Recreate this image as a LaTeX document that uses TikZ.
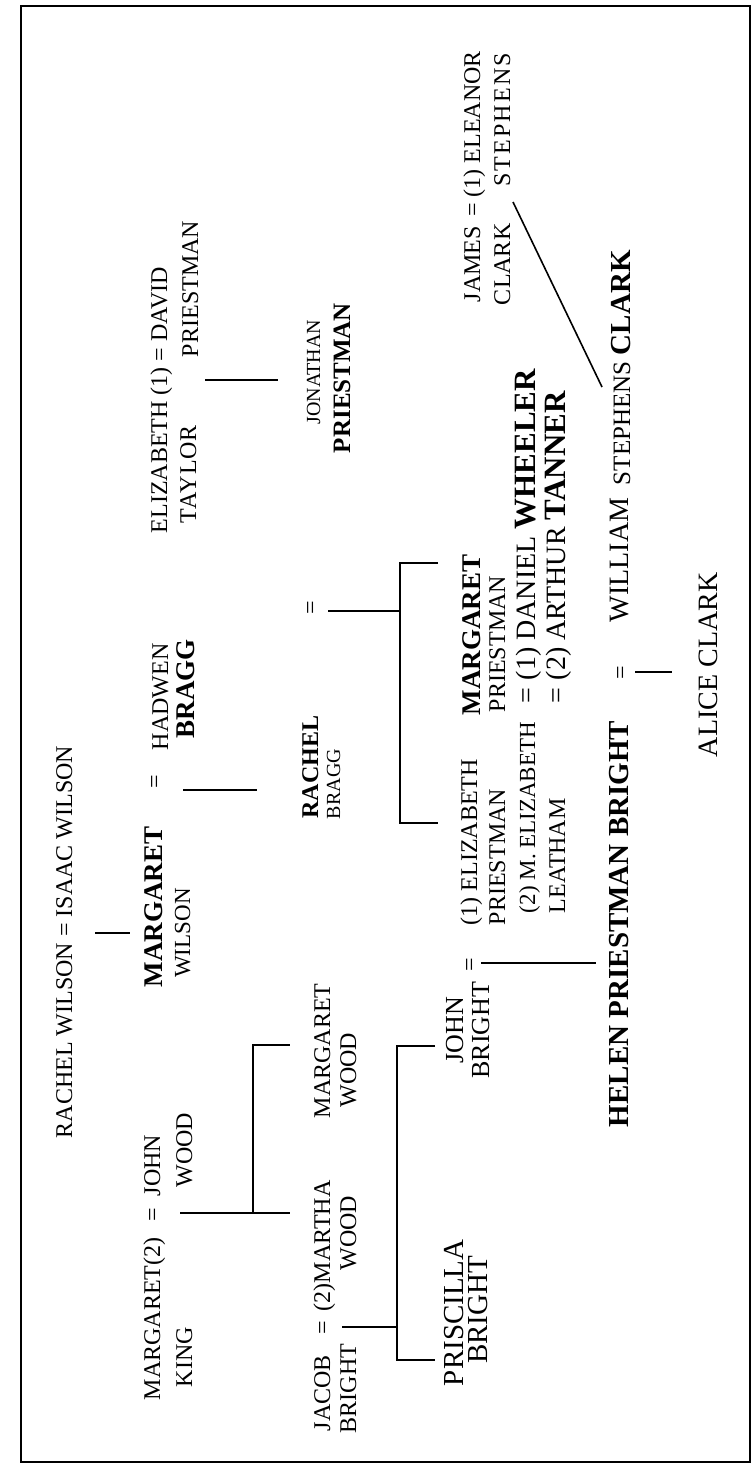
\documentclass[tikz,border=0pt]{standalone}
\usepackage{fontspec}
\setmainfont{Liberation Serif}
\newcommand\fsz[1]{\fontsize{#1}{#1}\selectfont}
\begin{document}
\begin{tikzpicture}[x=1pt,y=-1pt,
  nm/.style={rotate=90,inner sep=0pt,outer sep=0pt,text=black},
  sz/.style={font=\fontsize{#1}{#1}\selectfont},
  bsz/.style={font=\fontsize{#1}{#1}\selectfont\bfseries},
  link/.style={line width=1.6pt,black},
  frame/.style={line width=2.8pt,black}]
\useasboundingbox (0,0) rectangle (755,1468);
\fill[white] (0,0) rectangle (755,1468);
\draw[frame] (21,6) rectangle (750,1462);

% generation 1
\node[nm,sz=24,anchor=base west] (rw) at (72,1138) {RACHEL WILSON = ISAAC WILSON};

% Margaret King = John Wood
\node[nm,sz=24,anchor=base west] (mk1) at (160,1400) {MARGARET(2)};
\node[nm,sz=24,anchor=base] (mk2) at (192,1357) {KING};
\node[nm,sz=24,anchor=base] (eqkw) at (160,1215) {=};
\node[nm,sz=24,anchor=base west] (jw1) at (160,1196) {JOHN};
\node[nm,sz=24,anchor=base] (jw2) at (192,1150) {WOOD};

% Margaret Wilson = Hadwen Bragg
\node[nm,bsz=27,anchor=base west] (mw1) at (162,987) {MARGARET};
\node[nm,sz=23,anchor=base] (mw2) at (190,933) {WILSON};
\node[nm,sz=24,anchor=base] (eqwb) at (162,782) {=};
\node[nm,sz=24,anchor=base west] (hb1) at (168,750) {HADWEN};
\node[nm,bsz=27,anchor=base west] (hb2) at (194,738) {BRAGG};

% Elizabeth Taylor = David Priestman
\node[nm,sz=24,anchor=base west] (et1) at (167,533) {ELIZABETH (1) = DAVID};
\node[nm,sz=24,anchor=base west] (et2) at (196,523) {\addfontfeatures{LetterSpace=4}TAYLOR};
\node[nm,sz=24,anchor=base west] (dp2) at (198,357) {PRIESTMAN};

% children of Margaret King and John Wood; Jacob Bright
\node[nm,sz=24,anchor=base west] (jb1) at (330,1431) {JACOB};
\node[nm,sz=24,anchor=base west] (jb2) at (356,1433) {BRIGHT};
\node[nm,sz=24,anchor=base] (eqjm) at (330,1328) {=};
\node[nm,sz=24,anchor=base west] (mt1) at (330,1311) {(2)MARTHA};
\node[nm,sz=24,anchor=base] (mt2) at (356,1233) {WOOD};
\node[nm,sz=24,anchor=base west] (mwd1) at (330,1118) {MARGARET};
\node[nm,sz=24,anchor=base] (mwd2) at (356,1070) {WOOD};

% Rachel Bragg = Jonathan Priestman
\node[nm,bsz=24,anchor=base] (rb1) at (318,767) {RACHEL};
\node[nm,sz=20,anchor=base] (rb2) at (340,784) {BRAGG};
\node[nm,sz=24,anchor=base] (eqrj) at (318,608) {=};
\node[nm,sz=20,anchor=base] (jp1) at (320,372) {JONATHAN};
\node[nm,bsz=25,anchor=base] (jp2) at (350,378) {PRIESTMAN};

% James Clark = Eleanor Stephens
\node[nm,sz=24,anchor=base west] (jc1) at (480,302) {JAMES};
\node[nm,sz=24,anchor=base] (eqje) at (480,210) {=};
\node[nm,sz=24,anchor=base west] (es1) at (480,197) {(1) ELEANOR};
\node[nm,sz=24,anchor=base west] (jc2) at (510,305) {CLARK};
\node[nm,sz=24,anchor=base] (es2) at (510,120) {\addfontfeatures{LetterSpace=9}STEPHENS};

% children of Jacob Bright
\node[nm,sz=29,anchor=base west] (pb1) at (463,1386) {PRISCILLA};
\node[nm,sz=29,anchor=base] (pb2) at (487,1310) {BRIGHT};
\node[nm,sz=26,anchor=base] (jbr1) at (463,1030) {JOHN};
\node[nm,sz=26,anchor=base] (jbr2) at (489,1030) {BRIGHT};
\node[nm,sz=24,anchor=base] (eqje2) at (477,965) {=};
\node[nm,sz=24,anchor=base west] (ep1) at (477,925) {(1) ELIZABETH};
\node[nm,sz=24,anchor=base west] (ep2) at (505,925) {PRIESTMAN};
\node[nm,sz=23,anchor=base west] (ml1) at (535,913) {(2) M. ELIZABETH};
\node[nm,sz=24,anchor=base west] (ml2) at (565,913) {LEATHAM};

% Margaret Priestman
\node[nm,bsz=27,anchor=base west] (mp1) at (480,715) {MARGARET};
\node[nm,sz=24,anchor=base west] (mp2) at (505,712) {PRIESTMAN};
\node[nm,anchor=base west] (mp3) at (535,703) {\fsz{28}= (1) DANIEL \fsz{31}\bfseries WHEELER};
\node[nm,anchor=base west] (mp4) at (565,703) {\fsz{28}= (2) ARTHUR \fsz{31}\bfseries TANNER};

% Helen Priestman Bright = William Stephens Clark
\node[nm,bsz=29,anchor=base west] (hpb) at (628,1127) {HELEN PRIESTMAN BRIGHT};
\node[nm,sz=24,anchor=base] (eqhw) at (628,673) {=};
\node[nm,sz=28,anchor=base west] (wsc1) at (628,622) {WILLIAM};
\node[nm,anchor=base west] (wsc2) at (630,485) {\fsz{25}STEPHENS \fsz{29}\bfseries CLARK};
\node[nm,sz=28,anchor=base west] (ac) at (717,757) {ALICE CLARK};

% connector points
\coordinate (l1a) at (95,933);   \coordinate (l1b) at (130,933);
\coordinate (l2a) at (183,790);  \coordinate (l2b) at (257,790);
\coordinate (l3a) at (205,380);  \coordinate (l3b) at (278,380);
\coordinate (k0) at (180,1213);  \coordinate (k1) at (253,1213);
\coordinate (k2) at (290,1213);  \coordinate (k3) at (253,1045);
\coordinate (k4) at (290,1045);
\coordinate (j0) at (342,1327);  \coordinate (j1) at (397,1327);
\coordinate (j2) at (397,1046);  \coordinate (j3) at (435,1046);
\coordinate (j4) at (397,1360);  \coordinate (j5) at (435,1360);
\coordinate (r0) at (328,611);   \coordinate (r1) at (400,611);
\coordinate (r2) at (400,563);   \coordinate (r3) at (438,563);
\coordinate (r4) at (400,823);   \coordinate (r5) at (438,823);
\coordinate (h0) at (481,963);   \coordinate (h1) at (596,963);
\coordinate (a0) at (635,672);   \coordinate (a1) at (672,672);
\coordinate (d0) at (513,202);   \coordinate (d1) at (602,387);

\draw[link] (l1a) -- (l1b);
\draw[link] (l2a) -- (l2b);
\draw[link] (l3a) -- (l3b);
\draw[link] (k0) -- (k2);
\draw[link] (k1) -- (k3) -- (k4);
\draw[link] (j0) -- (j1);
\draw[link] (j3) -- (j2) -- (j4) -- (j5);
\draw[link] (r0) -- (r1);
\draw[link] (r3) -- (r2) -- (r4) -- (r5);
\draw[link] (h0) -- (h1);
\draw[link] (a0) -- (a1);
\draw[link] (d0) -- (d1);
\end{tikzpicture}
\end{document}
